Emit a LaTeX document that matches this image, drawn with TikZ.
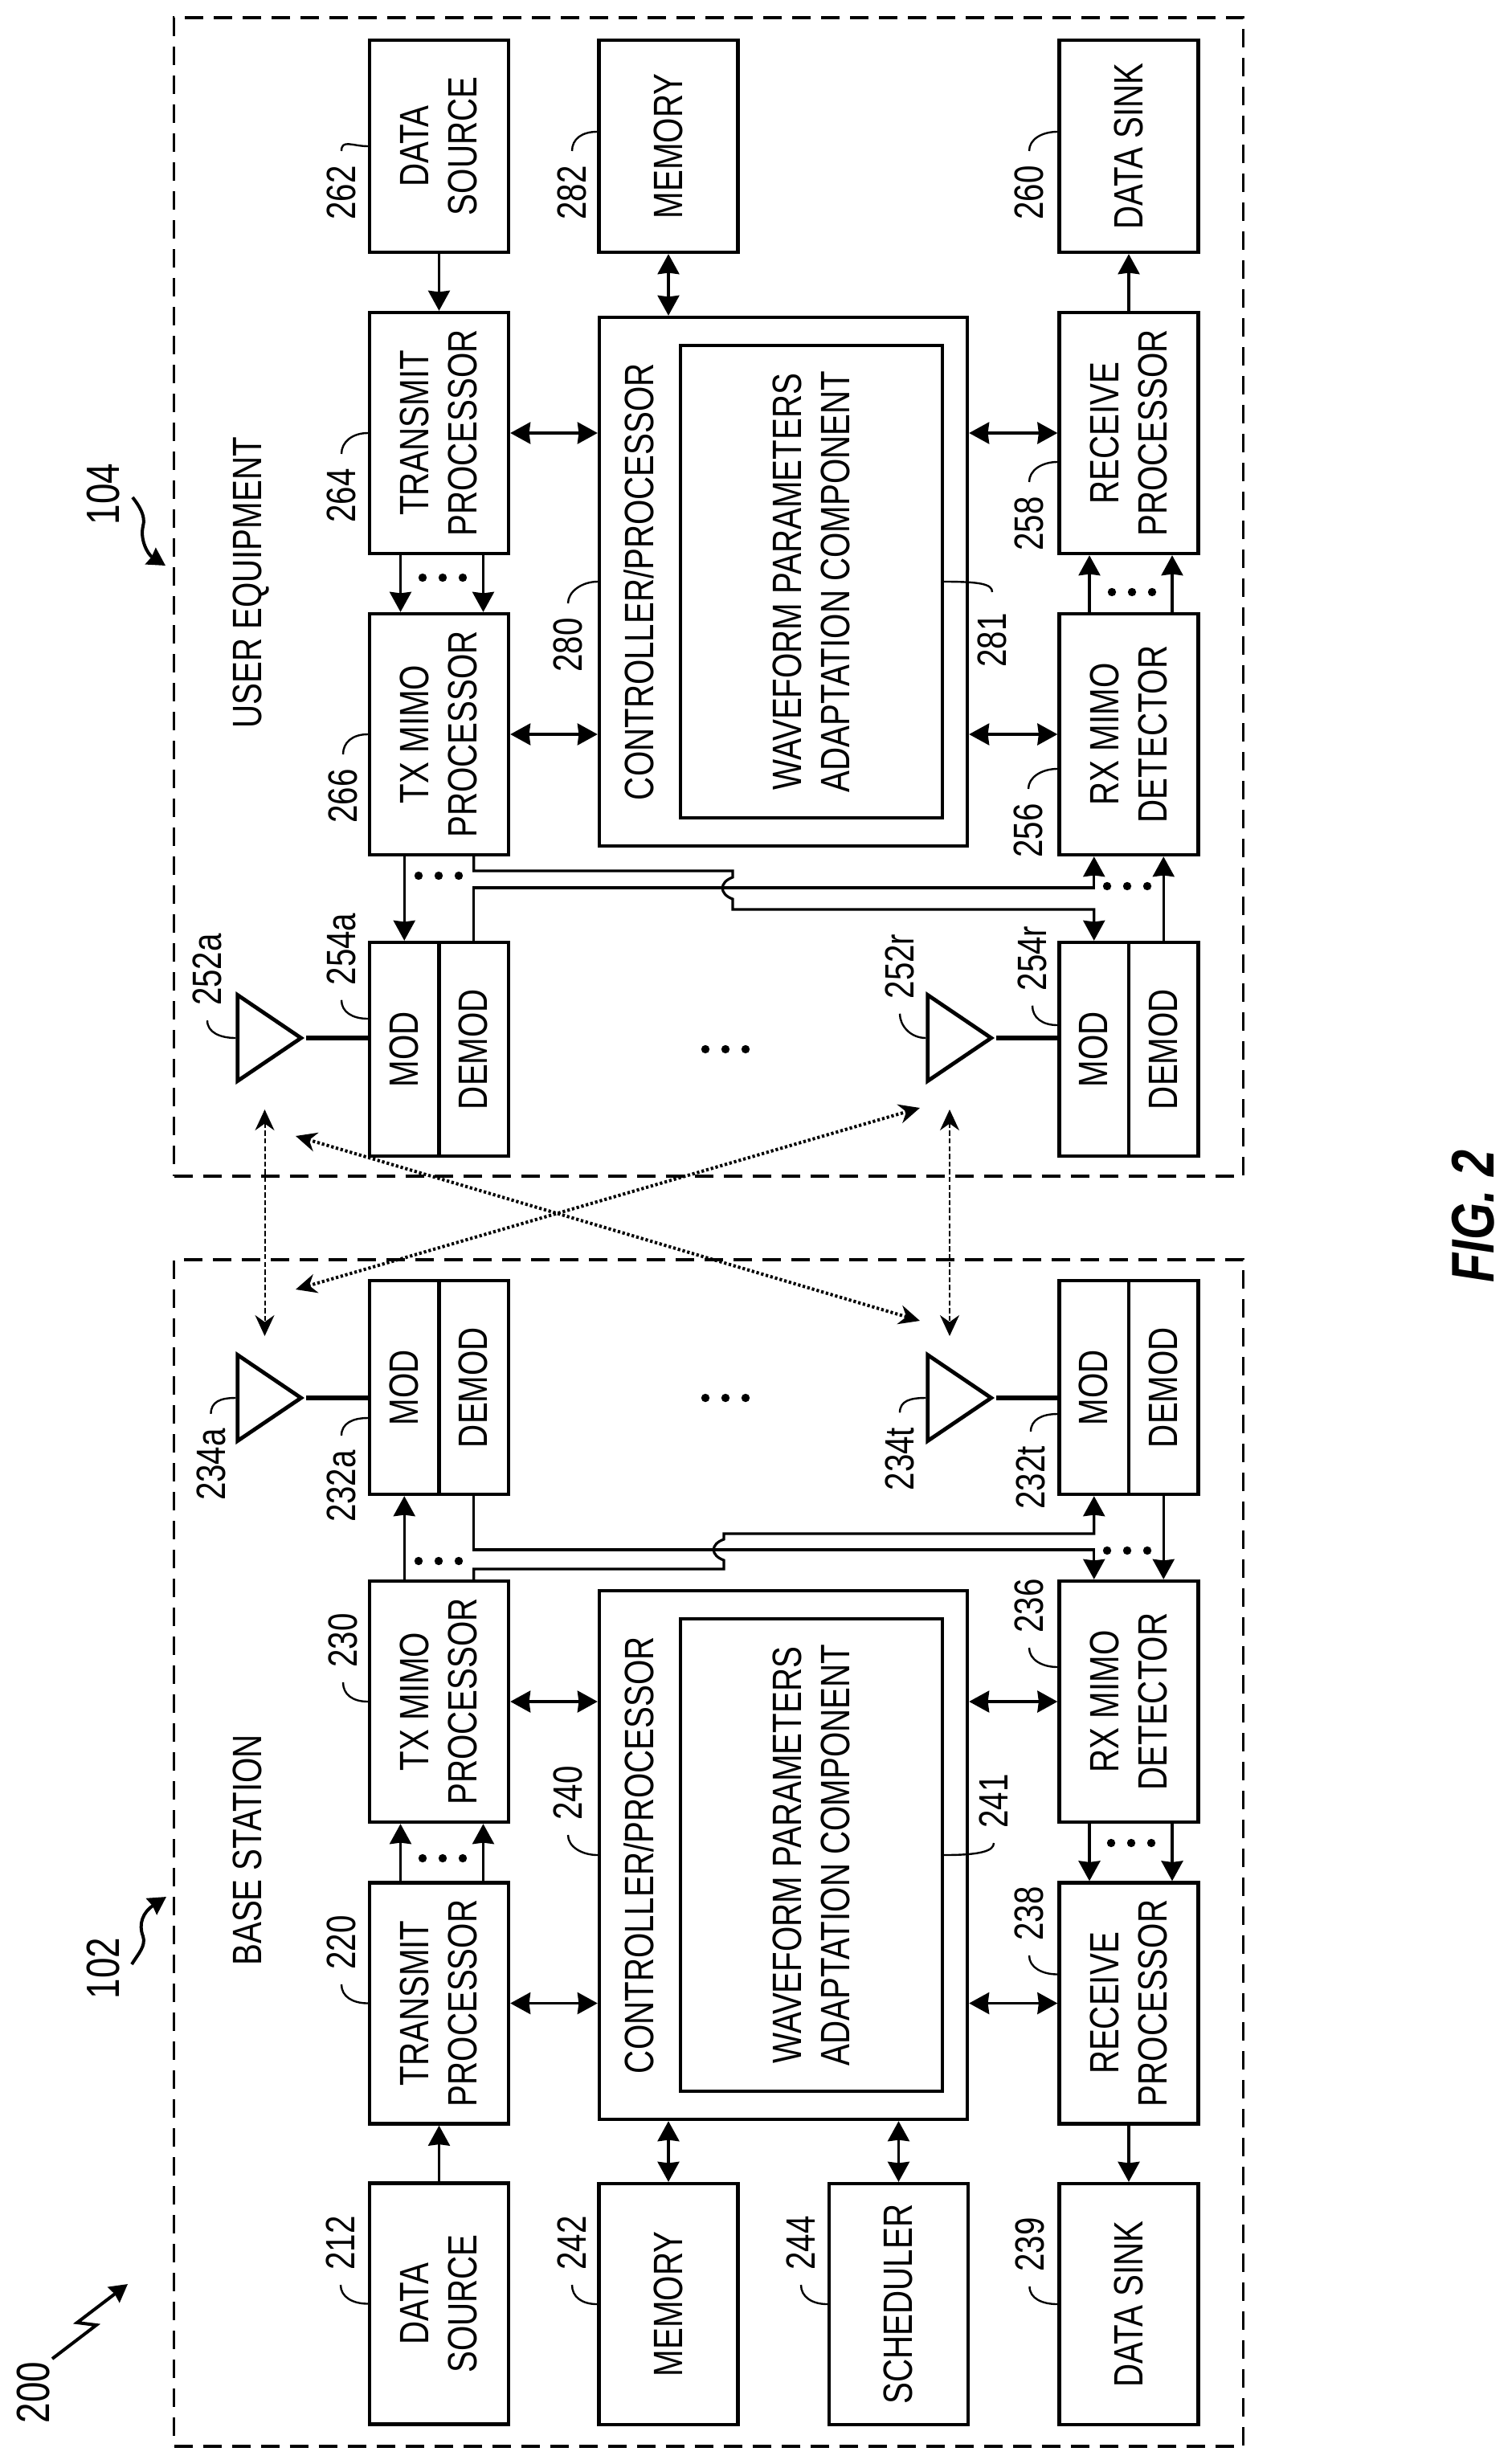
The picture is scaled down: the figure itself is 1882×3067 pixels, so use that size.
\documentclass[tikz,border=0pt]{standalone}
\usepackage{fontspec}
\setmainfont[FakeStretch=0.79]{Liberation Sans}
\usepackage{tikz}
\usetikzlibrary{arrows.meta,shapes.geometric}

\newcommand{\rtxt}[1]{\hspace*{5pt}\rotatebox{90}{\begin{tabular}{@{}c@{}}#1\end{tabular}}}
\newcommand{\tridots}[2]{\fill (#1-25,#2) circle (2.6pt) (#1,#2) circle (2.6pt) (#1+25,#2) circle (2.6pt);}

\begin{document}
\begin{tikzpicture}[
  x=0.5pt, y=-0.5pt,
  >={Stealth[inset=0.8pt, length=12.5pt, width=13.5pt]},
  txtfont/.style={font=\fontsize{25.5}{30}\selectfont},
  zone/.style={draw, dash pattern=on 11.5pt off 6.5pt, line width=1.75pt, inner sep=0pt},
  blk/.style={draw, line width=2.2pt, minimum width=86.5pt, minimum height=150pt, inner sep=0pt, txtfont},
  modblk/.style={blk, minimum width=43.25pt, minimum height=133pt},
  ctrl/.style={blk, minimum width=229pt, minimum height=329pt},
  inner/.style={blk, minimum width=163pt, minimum height=294pt},
  antenna/.style={draw, line width=2.4pt, isosceles triangle, isosceles triangle stretches, inner sep=0pt, minimum width=53.5pt, minimum height=39.5pt, anchor=apex},
  feed/.style={line width=3pt},
  msg/.style={->, line width=1.6pt},
  bidir/.style={<->, line width=1.6pt},
  lead/.style={line width=1.2pt},
  num/.style={rotate=90, inner xsep=9pt, inner ysep=0pt, txtfont},
  bignum/.style={rotate=90, inner sep=0pt, font=\fontsize{29}{30}\selectfont},
  title/.style={rotate=90, inner sep=0pt, text depth=0pt, txtfont},
  airv/.style={<->, line width=1pt, dash pattern=on 3.2pt off 1.6pt, >={Stealth[length=13pt, width=12pt]}},
  aird/.style={<->, line width=2pt, dash pattern=on 1.6pt off 1.4pt, >={Stealth[length=13pt, width=12pt]}},
  refarrow/.style={->, line width=2pt, >={Stealth[inset=0.8pt, length=11pt, width=12pt]}}
]
\useasboundingbox (0,0) rectangle (1882,3067);

\node[zone, minimum width=665.5pt, minimum height=721pt] (ue104) at (882,743) {};
\node[zone, minimum width=665.5pt, minimum height=738.5pt] (bs102) at (882,2306.5) {};

% user equipment
\node[blk, minimum height=132pt] (dsrc262) at (546.5,182) {\rtxt{DATA\\SOURCE}};
\node[blk] (tx264) at (546.5,539) {\rtxt{TRANSMIT\\PROCESSOR}};
\node[blk] (txm266) at (546.5,914) {\rtxt{TX MIMO\\PROCESSOR}};
\node[modblk] (mod254a) at (503.25,1306) {\rtxt{MOD}};
\node[modblk] (demod254a) at (589.75,1306) {\rtxt{DEMOD}};
\node[blk, minimum height=132pt] (mem282) at (832,182) {\rtxt{MEMORY}};
\node[ctrl] (ctrl280) at (975,724) {};
\node[inner] (wfp281) at (1010,724) {\rtxt{WAVEFORM PARAMETERS\\ADAPTATION COMPONENT}};
\node[title] (ctrltxt280) at (795,724) {CONTROLLER/PROCESSOR};
\node[blk, minimum height=132pt] (snk260) at (1405,182) {\rtxt{DATA SINK}};
\node[blk] (rx258) at (1405,539) {\rtxt{RECEIVE\\PROCESSOR}};
\node[blk] (rxm256) at (1405,914) {\rtxt{RX MIMO\\DETECTOR}};
\node[modblk] (mod254r) at (1361.75,1306) {\rtxt{MOD}};
\node[modblk] (demod254r) at (1448.25,1306) {\rtxt{DEMOD}};
\node[antenna] (ant252a) at (381,1292) {};
\node[antenna] (ant252r) at (1240,1292) {};

% base station
\node[blk] (dsrc212) at (546.5,2867.5) {\rtxt{DATA\\SOURCE}};
\node[blk] (tx220) at (546.5,2493.5) {\rtxt{TRANSMIT\\PROCESSOR}};
\node[blk] (txm230) at (546.5,2118) {\rtxt{TX MIMO\\PROCESSOR}};
\node[modblk] (mod232a) at (503.25,1727) {\rtxt{MOD}};
\node[modblk] (demod232a) at (589.75,1727) {\rtxt{DEMOD}};
\node[blk] (mem242) at (832,2868) {\rtxt{MEMORY}};
\node[blk] (sch244) at (1118.5,2868) {\rtxt{SCHEDULER}};
\node[ctrl] (ctrl240) at (975,2309) {};
\node[inner] (wfp241) at (1010,2309) {\rtxt{WAVEFORM PARAMETERS\\ADAPTATION COMPONENT}};
\node[title] (ctrltxt240) at (795,2309) {CONTROLLER/PROCESSOR};
\node[blk] (snk239) at (1405,2868) {\rtxt{DATA SINK}};
\node[blk] (rx238) at (1405,2493.5) {\rtxt{RECEIVE\\PROCESSOR}};
\node[blk] (rxm236) at (1405,2118) {\rtxt{RX MIMO\\DETECTOR}};
\node[modblk] (mod232t) at (1361.75,1727) {\rtxt{MOD}};
\node[modblk] (demod232t) at (1448.25,1727) {\rtxt{DEMOD}};
\node[antenna] (ant234a) at (381,1740) {};
\node[antenna] (ant234t) at (1240,1740) {};

\node[title] (uetxt) at (308,725.5) {USER EQUIPMENT};
\node[title] (bstxt) at (308,2303) {BASE STATION};
\node[rotate=90, inner sep=0pt, font=\fontsize{37.5}{40}\selectfont\bfseries\itshape] (figtxt) at (1834,1514) {FIG. 2};

% numbers
\node[bignum] (lb200) at (41.5,2978) {200};
\node[bignum] (lb102) at (129,2450) {102};
\node[bignum] (lb104) at (129,615) {104};
\node[num] (lb262) at (425,240) {262};
\node[num] (lb264) at (425,617) {264};
\node[num] (lb266) at (427,991) {266};
\node[num] (lb254a) at (425,1181.5) {254a};
\node[num] (lb252a) at (258,1207) {252a};
\node[num] (lb252r) at (1120,1203) {252r};
\node[num] (lb254r) at (1285,1193) {254r};
\node[num] (lb282) at (712,240) {282};
\node[num] (lb280) at (707,803) {280};
\node[num] (lb281) at (1235,797) {281};
\node[num] (lb260) at (1281,240) {260};
\node[num] (lb258) at (1281,652) {258};
\node[num] (lb256) at (1280,1034) {256};
\node[num] (lb234a) at (262.5,1823) {234a};
\node[num] (lb232a) at (425,1850) {232a};
\node[num] (lb234t) at (1120,1816) {234t};
\node[num] (lb232t) at (1283,1839.5) {232t};
\node[num] (lb230) at (427,2042) {230};
\node[num] (lb220) at (425,2418) {220};
\node[num] (lb212) at (424,2792) {212};
\node[num] (lb240) at (707,2232) {240};
\node[num] (lb241) at (1237,2242) {241};
\node[num] (lb236) at (1281,1999) {236};
\node[num] (lb238) at (1281,2382) {238};
\node[num] (lb242) at (712,2792) {242};
\node[num] (lb244) at (997,2792) {244};
\node[num] (lb239) at (1281.5,2794) {239};

% leaders, user equipment
\draw[lead] (dsrc262.west) .. controls +(-19,0) and +(0,-15) .. (lb262.east);
\draw[lead] (tx264.west) .. controls +(-19,0) and +(0,-15) .. (lb264.east);
\draw[lead] (txm266.west) .. controls +(-19,0) and +(0,-15) .. (lb266.east);
\draw[lead] ([yshift=19pt]mod254a.west) .. controls +(-19,0) and +(0,15) .. (lb254a.west);
\draw[lead] (ant252a.lower side) .. controls +(-19,0) and +(0,15) .. (lb252a.west);
\draw[lead] (ant252r.lower side) .. controls +(-19,0) and +(0,15) .. (lb252r.west);
\draw[lead] ([yshift=15pt]mod254r.west) .. controls +(-19,0) and +(0,15) .. (lb254r.west);
\draw[lead] ([yshift=9pt]mem282.west) .. controls +(-19,0) and +(0,-15) .. (lb282.east);
\draw[lead] (ctrl280.west) .. controls +(-19,0) and +(0,-15) .. (lb280.east);
\draw[lead] (wfp281.east) .. controls +(45,0) and +(0,-10) .. ([yshift=4pt]lb281.east);
\draw[lead] ([yshift=9pt]snk260.west) .. controls +(-19,0) and +(0,-15) .. (lb260.east);
\draw[lead] ([yshift=-18pt]rx258.west) .. controls +(-19,0) and +(0,-15) .. (lb258.east);
\draw[lead] ([yshift=-21.5pt]rxm256.west) .. controls +(-19,0) and +(0,-15) .. (lb256.east);

% leaders, base station
\draw[lead] (ant234a.lower side) .. controls +(-19,0) and +(0,-15) .. (lb234a.east);
\draw[lead] ([yshift=-19pt]mod232a.west) .. controls +(-19,0) and +(0,-15) .. (lb232a.east);
\draw[lead] (ant234t.lower side) .. controls +(-19,0) and +(0,-15) .. (lb234t.east);
\draw[lead] ([yshift=-16.5pt]mod232t.west) .. controls +(-19,0) and +(0,-15) .. (lb232t.east);
\draw[lead] (txm230.west) .. controls +(-19,0) and +(0,15) .. (lb230.west);
\draw[lead] (tx220.west) .. controls +(-19,0) and +(0,15) .. (lb220.west);
\draw[lead] (dsrc212.west) .. controls +(-19,0) and +(0,15) .. (lb212.west);
\draw[lead] (ctrl240.west) .. controls +(-19,0) and +(0,15) .. (lb240.west);
\draw[lead] (wfp241.east) .. controls +(45,0) and +(0,10) .. (lb241.west);
\draw[lead] ([yshift=21.5pt]rxm236.west) .. controls +(-19,0) and +(0,15) .. (lb236.west);
\draw[lead] ([yshift=18pt]rx238.west) .. controls +(-19,0) and +(0,15) .. (lb238.west);
\draw[lead] (mem242.west) .. controls +(-19,0) and +(0,15) .. (lb242.west);
\draw[lead] (sch244.west) .. controls +(-19,0) and +(0,15) .. (lb244.west);
\draw[lead] (snk239.west) .. controls +(-19,0) and +(0,15) .. (lb239.west);

% connections, user equipment
\draw[msg] (dsrc262.south) -- (tx264.north);
\draw[msg] ([xshift=-24pt]tx264.south) -- ([xshift=-24pt]txm266.north);
\draw[msg] ([xshift=27.5pt]tx264.south) -- ([xshift=27.5pt]txm266.north);
\draw[bidir] (tx264.east) -- (ctrl280.west |- tx264.east);
\draw[bidir] (txm266.east) -- (ctrl280.west |- txm266.east);
\draw[bidir] (mem282.south) -- (mem282.south |- ctrl280.north);
\draw[bidir] (ctrl280.east |- rx258.west) -- (rx258.west);
\draw[bidir] (ctrl280.east |- rxm256.west) -- (rxm256.west);
\draw[msg] (rx258.north) -- (snk260.south);
\draw[msg] ([xshift=-24.5pt]rxm256.north) -- ([xshift=-24.5pt]rx258.south);
\draw[msg] ([xshift=27pt]rxm256.north) -- ([xshift=27pt]rx258.south);
\draw[msg] (txm266.south -| mod254a.north) -- (mod254a.north);
\coordinate (hop266a) at (912,1084);
\coordinate (hop266b) at (912,1132);
\coordinate (bus256) at (912,1105);
\draw[msg] (txm266.south -| demod254a.north) |- (hop266a) -- (912,1092) .. controls (895,1098) and (895,1113) .. (912,1119) -- (hop266b) -| (mod254r.north);
\draw[msg] (demod254a.north) |- (bus256) -| (rxm256.south -| mod254r.north);
\draw[msg] (demod254r.north) -- (rxm256.south -| demod254r.north);
\draw[feed] (ant252a.apex) -- (ant252a.apex -| mod254a.west);
\draw[feed] (ant252r.apex) -- (ant252r.apex -| mod254r.west);

% connections, base station
\draw[msg] (dsrc212.north) -- (tx220.south);
\draw[msg] ([xshift=-24pt]tx220.north) -- ([xshift=-24pt]txm230.south);
\draw[msg] ([xshift=27.5pt]tx220.north) -- ([xshift=27.5pt]txm230.south);
\draw[bidir] (tx220.east) -- (ctrl240.west |- tx220.east);
\draw[bidir] (txm230.east) -- (ctrl240.west |- txm230.east);
\draw[bidir] (mem242.north) -- (mem242.north |- ctrl240.south);
\draw[bidir] (sch244.north) -- (sch244.north |- ctrl240.south);
\draw[bidir] (ctrl240.east |- rx238.west) -- (rx238.west);
\draw[bidir] (ctrl240.east |- rxm236.west) -- (rxm236.west);
\draw[msg] (rx238.south) -- (snk239.north);
\draw[msg] ([xshift=-24.5pt]rxm236.south) -- ([xshift=-24.5pt]rx238.north);
\draw[msg] ([xshift=27pt]rxm236.south) -- ([xshift=27pt]rx238.north);
\draw[msg] (txm230.north -| mod232a.south) -- (mod232a.south);
\coordinate (hop230a) at (901,1953);
\coordinate (hop230b) at (901,1909);
\coordinate (bus236) at (901,1929);
\draw[msg] (txm230.north -| demod232a.south) |- (hop230a) -- (901,1942) .. controls (884,1936) and (884,1922) .. (901,1916) -- (hop230b) -| (mod232t.south);
\draw[msg] (demod232a.south) |- (bus236) -| (rxm236.north -| mod232t.south);
\draw[msg] (demod232t.south) -- (rxm236.north -| demod232t.south);
\draw[feed] (ant234a.apex) -- (ant234a.apex -| mod232a.west);
\draw[feed] (ant234t.apex) -- (ant234t.apex -| mod232t.west);

% dots
\tridots{551}{719}
\tridots{546}{1090}
\tridots{1403}{1103}
\tridots{1409}{737}
\tridots{903}{1306}
\tridots{551}{2313}
\tridots{546}{1943}
\tridots{1403}{1930}
\tridots{1408}{2294}
\tridots{903}{1740}

% air links
\coordinate (airua) at (329.5,1381);
\coordinate (airba) at (329.5,1663);
\coordinate (airur) at (1182,1381);
\coordinate (airbt) at (1182,1663);
\coordinate (airul) at (368,1414);
\coordinate (airbr) at (1145,1644);
\coordinate (airbl) at (368,1605);
\coordinate (airuo) at (1145,1379);
\draw[airv] (airua) -- (airba);
\draw[airv] (airur) -- (airbt);
\draw[aird] (airul) -- (airbr);
\draw[aird] (airbl) -- (airuo);

% reference arrows
\coordinate (tail200) at (65,2936);
\coordinate (tip200) at (159,2843);
\coordinate (tail102) at (164,2445);
\coordinate (tip102) at (207,2361);
\coordinate (tail104) at (165,619);
\coordinate (tip104) at (206,704);
\draw[refarrow] (tail200) -- (120,2894) -- (96,2891) -- (tip200);
\draw[refarrow] (tail102) .. controls (172,2432) and (182,2422) .. (178,2410) .. controls (172,2395) and (178,2380) .. (tip102);
\draw[refarrow] (tail104) .. controls (172,628) and (182,642) .. (178,655) .. controls (174,672) and (184,690) .. (tip104);
\end{tikzpicture}
\end{document}
